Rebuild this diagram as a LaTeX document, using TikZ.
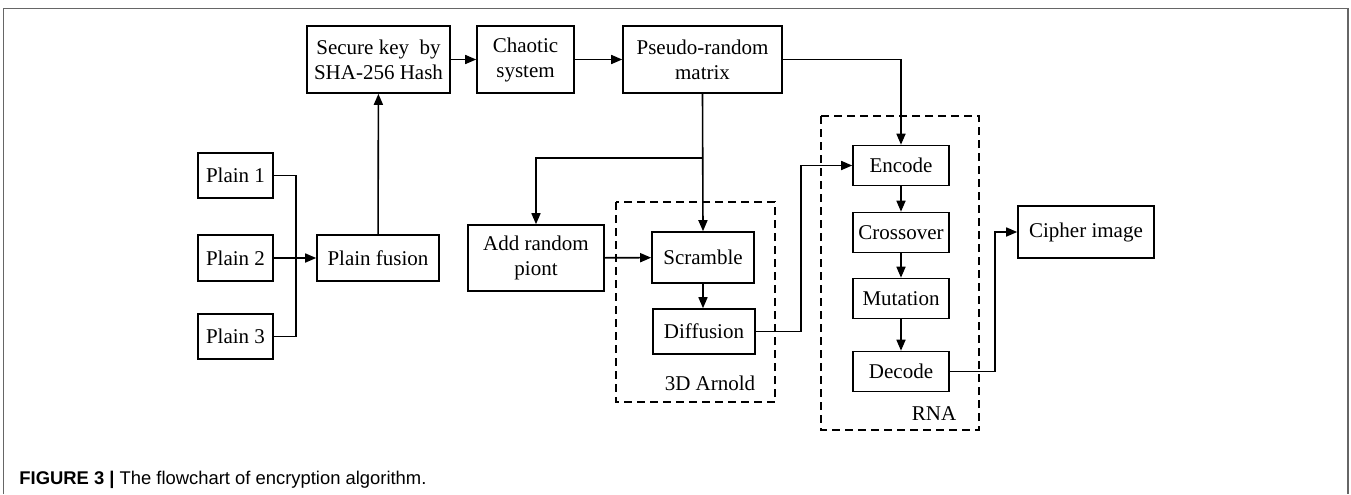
\documentclass[tikz,border=0pt]{standalone}
\usepackage{fontspec}
\setmainfont{Liberation Serif}
\newfontfamily\capfont{Liberation Sans}
\usetikzlibrary{arrows.meta}

\begin{document}
\begin{tikzpicture}[x=0.5pt,y=-0.5pt,
    blk/.style={draw,line width=0.8pt,inner sep=0pt,align=center,font=\fontsize{10.5}{12.5}\selectfont},
    lbl/.style={inner sep=0pt,font=\fontsize{10.5}{12.5}\selectfont},
    lnk/.style={line width=0.8pt},
    arr/.style={line width=0.8pt,-{Triangle[length=5.5pt,width=4.5pt]}},
    grp/.style={line width=0.8pt,dash pattern=on 4pt off 2.5pt}]
    \useasboundingbox (0,0) rectangle (1351,494);
    \draw[line width=0.7pt,black!60] (3.5,494)--(3.5,8.5)--(1348,8.5)--(1348,494);
    % top row
    \node[blk,minimum width=71.5pt,minimum height=33.5pt] (key) at (378.5,59.5) {Secure key\ \ by\\SHA-256 Hash};
    \node[blk,minimum width=48.5pt,minimum height=33.5pt] (chaos) at (525.5,59.5) {Chaotic\\system};
    \node[blk,minimum width=79.5pt,minimum height=33.5pt] (prm) at (702.5,59.5) {Pseudo-random\\matrix};
    % inputs
    \foreach \i/\y in {1/175.5,2/258,3/336.5}{
        \node[blk,minimum width=37.5pt,minimum height=22.75pt] (p\i) at (235.5,\y) {Plain \i};
    }
    \node[blk,minimum width=61pt,minimum height=23pt] (fusion) at (378,258) {Plain fusion};
    \node[blk,minimum width=68pt,minimum height=33pt] (addrp) at (536,258) {Add random\\piont};
    % 3D Arnold
    \node[blk,minimum width=51pt,minimum height=25.5pt] (scr) at (703,257.5) {Scramble};
    \node[blk,minimum width=51pt,minimum height=22.5pt] (dif) at (704,331.5) {Diffusion};
    \draw[grp] (616,202) rectangle (775,402);
    \node[lbl] (arnlbl) at (710,383) {3D Arnold};
    % RNA
    \foreach \n/\y/\t in {enc/165.5/Encode,cro/232.5/Crossover,mut/298.5/Mutation,dec/371.5/Decode}{
        \node[blk,minimum width=48pt,minimum height=20pt] (\n) at (901,\y) {\t};
    }
    \draw[grp] (821,116) rectangle (979,430);
    \node[lbl] (rnalbl) at (934,414) {RNA};
    \node[blk,minimum width=68pt,minimum height=26pt] (cip) at (1086,232) {Cipher image};
    % connectors
    \draw[lnk] (p1.east)--++(22,0)|-(p3.east);
    \draw[arr] (p2)--(fusion);
    \draw[arr] (fusion)--(key);
    \draw[arr] (key)--(chaos);
    \draw[arr] (chaos)--(prm);
    \draw[arr] (prm.east)-|(enc.north);
    \draw[arr] (prm.south)--(scr.north);
    \coordinate (br) at (702.5,158);
    \draw[arr] (br)-|(addrp.north);
    \draw[arr] (addrp)--(scr);
    \draw[arr] (scr.south)--(scr.south|-dif.north);
    \draw[arr] (dif.east)--++(45,0)|-(enc.west);
    \foreach \a/\b in {enc/cro,cro/mut,mut/dec}{
        \draw[arr] (\a)--(\b);
    }
    \draw[arr] (dec.east)--++(45,0)|-(cip.west);
    % caption
    \node[anchor=base west,inner sep=0pt,font=\capfont\fontsize{9.2}{11}\selectfont] (cap) at (19,484) {\textbf{FIGURE 3 |} The flowchart of encryption algorithm.};
\end{tikzpicture}
\end{document}
